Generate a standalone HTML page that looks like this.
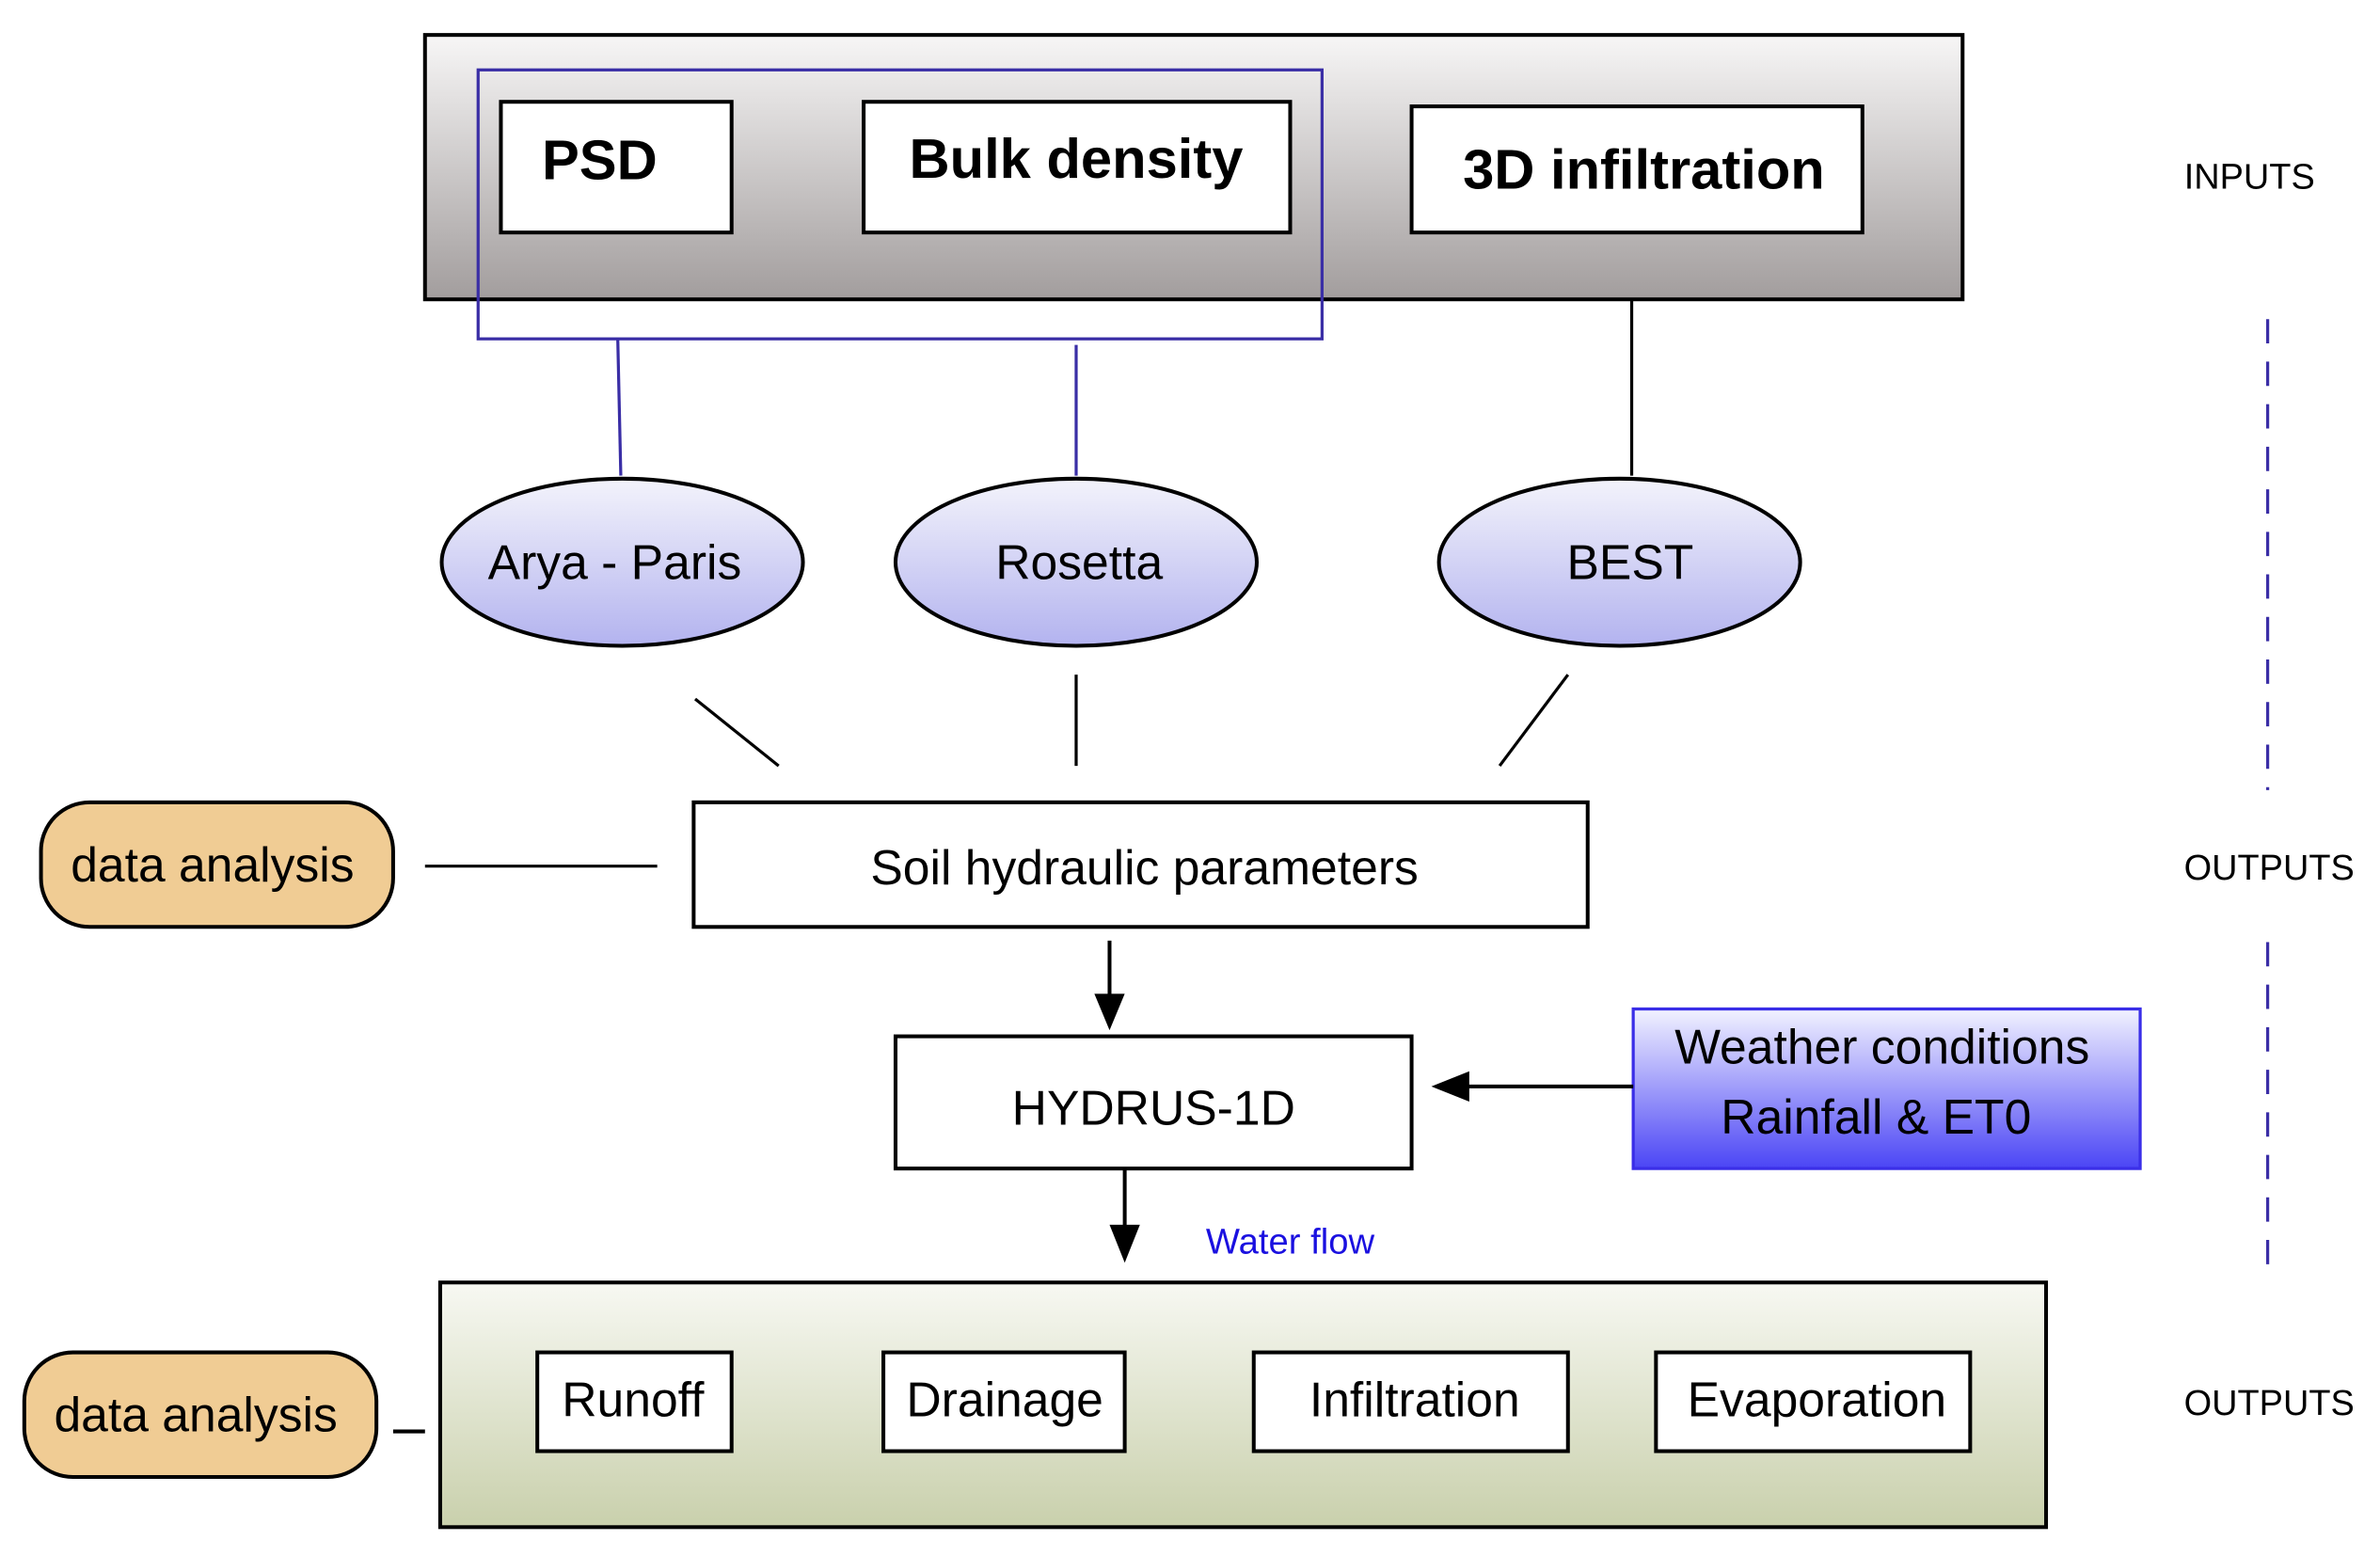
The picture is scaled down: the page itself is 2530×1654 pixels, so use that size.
<!DOCTYPE html>
<html><head><meta charset="utf-8"><style>
html,body{margin:0;padding:0;background:#fff;}
svg{display:block;}
text{font-family:"Liberation Sans",sans-serif;}
</style></head><body>
<svg width="2530" height="1654" viewBox="0 0 1568 1024" preserveAspectRatio="none" xmlns="http://www.w3.org/2000/svg">
<defs>
<linearGradient id="g1" x1="0" y1="0" x2="0" y2="1"><stop offset="0" stop-color="#f7f6f6"/><stop offset="1" stop-color="#a29d9d"/></linearGradient>
<linearGradient id="g2" x1="0" y1="0" x2="0" y2="1"><stop offset="0" stop-color="#f3f3fb"/><stop offset="1" stop-color="#b3b3ef"/></linearGradient>
<linearGradient id="g3" x1="0" y1="0" x2="0" y2="1"><stop offset="0" stop-color="#f2f2ff"/><stop offset="1" stop-color="#4b45f5"/></linearGradient>
<linearGradient id="g4" x1="0" y1="0" x2="0" y2="1"><stop offset="0" stop-color="#f7f8f2"/><stop offset="1" stop-color="#c9d0ac"/></linearGradient>
</defs>
<rect x="280" y="23" width="1013" height="174" fill="url(#g1)" stroke="#000" stroke-width="2.5"/>
<rect x="330" y="67" width="152" height="86" fill="#fff" stroke="#000" stroke-width="2.5"/>
<rect x="569" y="67" width="281" height="86" fill="#fff" stroke="#000" stroke-width="2.5"/>
<rect x="930" y="70" width="297" height="83" fill="#fff" stroke="#000" stroke-width="2.5"/>
<rect x="315" y="46" width="556" height="177" fill="none" stroke="#3a2ea6" stroke-width="2"/>
<text x="395" y="118" font-size="37" font-weight="bold" text-anchor="middle">PSD</text>
<text x="709" y="117" font-size="37" font-weight="bold" text-anchor="middle">Bulk density</text>
<text x="1083" y="124" font-size="37" font-weight="bold" text-anchor="middle">3D infiltration</text>
<text x="1482" y="124" font-size="23.5" text-anchor="middle">INPUTS</text>
<line x1="407" y1="223" x2="409" y2="313" stroke="#3a2ea6" stroke-width="2"/>
<line x1="709" y1="227" x2="709" y2="313" stroke="#3a2ea6" stroke-width="2"/>
<line x1="1075" y1="197" x2="1075" y2="313" stroke="#000" stroke-width="2"/>
<ellipse cx="410" cy="370" rx="119" ry="55" fill="url(#g2)" stroke="#000" stroke-width="2.5"/>
<ellipse cx="709" cy="370" rx="119" ry="55" fill="url(#g2)" stroke="#000" stroke-width="2.5"/>
<ellipse cx="1067" cy="370" rx="119" ry="55" fill="url(#g2)" stroke="#000" stroke-width="2.5"/>
<text x="405" y="381" font-size="32" text-anchor="middle">Arya - Paris</text>
<text x="711" y="381" font-size="32" text-anchor="middle">Rosetta</text>
<text x="1074" y="381" font-size="32" text-anchor="middle">BEST</text>
<line x1="458" y1="460" x2="513" y2="504" stroke="#000" stroke-width="2"/>
<line x1="709" y1="444" x2="709" y2="504" stroke="#000" stroke-width="2"/>
<line x1="1033" y1="444" x2="988" y2="504" stroke="#000" stroke-width="2"/>
<line x1="1494" y1="210" x2="1494" y2="520" stroke="#3a2ea6" stroke-width="2" stroke-dasharray="16,12"/>
<line x1="1494" y1="620" x2="1494" y2="840" stroke="#3a2ea6" stroke-width="2" stroke-dasharray="16,12"/>
<rect x="27" y="528" width="232" height="82" rx="32" fill="#f0cc94" stroke="#000" stroke-width="2.5"/>
<text x="140" y="580" font-size="32" text-anchor="middle">data analysis</text>
<line x1="280" y1="570" x2="433" y2="570" stroke="#000" stroke-width="2"/>
<rect x="457" y="528" width="589" height="82" fill="#fff" stroke="#000" stroke-width="2.5"/>
<text x="754" y="582" font-size="32" text-anchor="middle">Soil hydraulic parameters</text>
<text x="1495" y="579" font-size="23.5" text-anchor="middle">OUTPUTS</text>
<line x1="731" y1="619" x2="731" y2="656" stroke="#000" stroke-width="2.5"/>
<polygon points="721,654 741,654 731,678" fill="#000"/>
<rect x="590" y="682" width="340" height="87" fill="#fff" stroke="#000" stroke-width="2.5"/>
<text x="760" y="740" font-size="32" text-anchor="middle">HYDRUS-1D</text>
<rect x="1076" y="664" width="334" height="105" fill="url(#g3)" stroke="#3a2ee8" stroke-width="2"/>
<text x="1240" y="700" font-size="32" text-anchor="middle">Weather conditions</text>
<text x="1236" y="746" font-size="32" text-anchor="middle">Rainfall &amp; ET0</text>
<line x1="966" y1="715" x2="1076" y2="715" stroke="#000" stroke-width="2.5"/>
<polygon points="943,715 968,705 968,725" fill="#000"/>
<line x1="741" y1="769" x2="741" y2="808" stroke="#000" stroke-width="2.5"/>
<polygon points="731,806 751,806 741,831" fill="#000"/>
<text x="850" y="825" font-size="23.7" fill="#1a10e0" text-anchor="middle">Water flow</text>
<rect x="290" y="844" width="1058" height="161" fill="url(#g4)" stroke="#000" stroke-width="2.5"/>
<rect x="354" y="890" width="128" height="65" fill="#fff" stroke="#000" stroke-width="2.5"/>
<rect x="582" y="890" width="159" height="65" fill="#fff" stroke="#000" stroke-width="2.5"/>
<rect x="826" y="890" width="207" height="65" fill="#fff" stroke="#000" stroke-width="2.5"/>
<rect x="1091" y="890" width="207" height="65" fill="#fff" stroke="#000" stroke-width="2.5"/>
<text x="417" y="932" font-size="32" text-anchor="middle">Runoff</text>
<text x="662" y="932" font-size="32" text-anchor="middle">Drainage</text>
<text x="932" y="932" font-size="32" text-anchor="middle">Infiltration</text>
<text x="1197" y="932" font-size="32" text-anchor="middle">Evaporation</text>
<rect x="16" y="890" width="232" height="82" rx="32" fill="#f0cc94" stroke="#000" stroke-width="2.5"/>
<text x="129" y="942" font-size="32" text-anchor="middle">data analysis</text>
<line x1="259" y1="942" x2="280" y2="942" stroke="#000" stroke-width="2.5"/>
<text x="1495" y="931" font-size="23.5" text-anchor="middle">OUTPUTS</text>
</svg>
</body></html>
